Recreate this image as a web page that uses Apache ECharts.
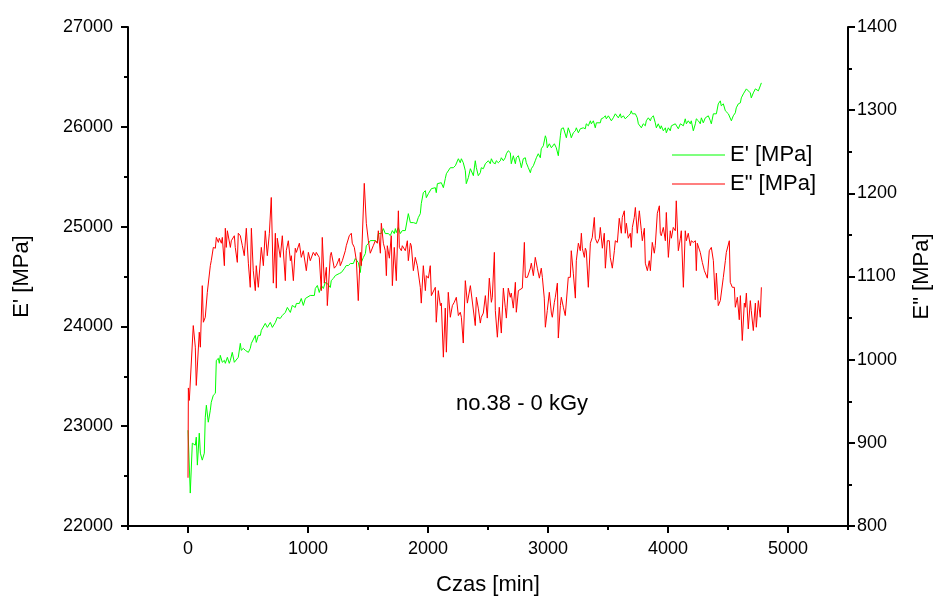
<!DOCTYPE html>
<html>
<head>
<meta charset="utf-8">
<title>no.38 - 0 kGy</title>
<script src="https://cdn.jsdelivr.net/npm/echarts@6/dist/echarts.min.js"></script>
<style>
  html, body { margin: 0; padding: 0; background: #fff; }
  #chart { width: 933px; height: 601px; }
</style>
</head>
<body>
<div id="chart"></div>
<script>
// Storage modulus E' [MPa] vs time [min]
const storageModulus = [
  [0,22960],[19,22330],[36,22830],[61,22810],[69,22890],[78,22610],[94,22930],[103,22730],[119,22660],[136,22730],
  [144,23090],[153,23210],[169,23040],[186,23160],[194,23240],[211,23310],[228,23330],[236,23660],[253,23680],[261,23630],
  [269,23710],[286,23640],[303,23660],[311,23630],[328,23690],[344,23630],[353,23660],[369,23740],[386,23640],[394,23660],
  [419,23690],[436,23830],[444,23760],[461,23780],[478,23760],[486,23780],[503,23740],[519,23780],[528,23830],[544,23810],
  [561,23910],[569,23840],[586,23910],[603,23910],[611,23960],[644,24030],[661,23990],[686,24040],[703,23990],[728,24040],
  [744,24090],[769,24080],[786,24110],[811,24140],[828,24190],[853,24140],[869,24210],[894,24190],[903,24230],[928,24230],
  [944,24280],[961,24210],[978,24280],[994,24290],[1019,24310],[1028,24290],[1053,24310],[1061,24380],[1078,24410],[1094,24340],
  [1111,24410],[1128,24380],[1144,24440],[1161,24430],[1186,24390],[1194,24460],[1211,24480],[1228,24510],[1236,24490],[1261,24530],
  [1278,24540],[1303,24580],[1319,24610],[1336,24610],[1353,24630],[1361,24640],[1378,24630],[1394,24680],[1403,24660],[1419,24640],
  [1436,24540],[1444,24640],[1461,24690],[1478,24730],[1486,24810],[1503,24830],[1519,24860],[1528,24840],[1561,24860],[1578,24840],
  [1586,24930],[1611,24930],[1628,24980],[1644,24930],[1669,24930],[1686,24910],[1703,24960],[1719,24930],[1728,24980],[1736,24940],
  [1753,24990],[1769,24930],[1786,24960],[1811,24960],[1819,24940],[1836,25130],[1853,25040],[1861,25030],[1878,25040],[1894,25060],
  [1903,25030],[1919,25090],[1936,25130],[1944,25230],[1961,25340],[1978,25360],[1986,25290],[2003,25330],[2019,25310],[2028,25380],
  [2044,25360],[2061,25390],[2069,25340],[2078,25430],[2094,25410],[2111,25440],[2128,25390],[2144,25480],[2153,25530],[2169,25530],
  [2186,25590],[2194,25610],[2211,25590],[2228,25610],[2236,25590],[2253,25680],[2269,25640],[2278,25680],[2294,25640],[2311,25560],
  [2319,25430],[2336,25490],[2353,25580],[2361,25560],[2378,25510],[2394,25660],[2403,25590],[2419,25510],[2436,25540],[2444,25590],
  [2461,25580],[2478,25630],[2486,25640],[2503,25660],[2519,25630],[2528,25680],[2544,25640],[2561,25630],[2569,25660],[2586,25640],
  [2603,25660],[2611,25690],[2628,25660],[2644,25690],[2653,25730],[2669,25760],[2686,25740],[2694,25630],[2711,25710],[2728,25630],
  [2736,25690],[2753,25710],[2769,25640],[2778,25590],[2794,25680],[2811,25690],[2819,25640],[2836,25590],[2853,25540],[2861,25580],
  [2878,25610],[2894,25660],[2903,25690],[2919,25730],[2936,25690],[2944,25780],[2961,25810],[2978,25910],[2986,25880],[2994,25790],
  [3011,25830],[3028,25790],[3036,25810],[3053,25830],[3069,25790],[3078,25810],[3086,25710],[3103,25910],[3111,25980],[3128,25990],
  [3144,25980],[3153,25890],[3169,25990],[3186,25930],[3194,25890],[3211,25940],[3228,25960],[3236,25990],[3253,25940],[3269,25980],
  [3278,25960],[3294,25990],[3311,25980],[3319,26030],[3336,26010],[3353,26060],[3361,26030],[3378,26060],[3394,25990],[3403,26040],
  [3419,26060],[3436,26040],[3444,26080],[3461,26090],[3478,26110],[3486,26080],[3503,26110],[3519,26090],[3528,26060],[3544,26090],
  [3561,26130],[3569,26110],[3586,26090],[3603,26130],[3611,26090],[3628,26110],[3644,26080],[3653,26090],[3669,26110],[3686,26130],
  [3694,26160],[3703,26130],[3719,26110],[3728,26130],[3744,26090],[3753,26030],[3769,26030],[3778,25990],[3794,26030],[3811,26010],
  [3819,26060],[3836,26090],[3853,26060],[3861,26090],[3878,26110],[3894,26040],[3903,25990],[3919,26030],[3936,25980],[3944,26010],
  [3961,25960],[3978,25990],[3986,25940],[4003,25990],[4019,25960],[4028,26010],[4044,25990],[4061,26030],[4069,26010],[4086,25980],
  [4103,26030],[4111,26040],[4128,26010],[4144,26080],[4153,26030],[4169,26060],[4186,26030],[4194,26060],[4211,25960],[4228,26030],
  [4236,26080],[4253,26060],[4269,26030],[4278,26090],[4294,26040],[4311,26090],[4319,26080],[4336,26110],[4353,26060],[4361,26030],
  [4378,26130],[4394,26140],[4403,26130],[4419,26230],[4436,26260],[4444,26210],[4461,26230],[4478,26160],[4486,26180],[4503,26130],
  [4519,26140],[4528,26060],[4544,26110],[4561,26140],[4569,26190],[4586,26230],[4603,26240],[4611,26290],[4628,26330],[4644,26340],
  [4653,26380],[4669,26390],[4686,26340],[4694,26290],[4711,26340],[4728,26380],[4736,26390],[4753,26360],[4769,26410],[4778,26440]
];

// Loss modulus E" [MPa] vs time [min]
const lossModulus = [
  [0,858],[3,966],[11,951],[27,951],[44,1041],[61,1015],[69,969],[94,1033],[103,1015],[119,1089],
  [128,1045],[144,1051],[161,1081],[169,1080],[186,1113],[194,1119],[211,1135],[228,1134],[236,1147],[253,1141],
  [261,1146],[278,1140],[286,1147],[303,1113],[311,1158],[319,1135],[328,1155],[353,1135],[361,1143],[386,1149],
  [394,1135],[411,1117],[419,1152],[436,1149],[453,1137],[469,1125],[486,1158],[503,1116],[519,1087],[528,1158],
  [544,1107],[561,1083],[569,1113],[586,1087],[611,1135],[628,1113],[644,1155],[661,1125],[678,1152],[694,1195],
  [711,1092],[728,1152],[736,1086],[744,1146],[769,1123],[786,1149],[811,1095],[819,1131],[836,1143],[853,1119],
  [861,1125],[878,1095],[894,1134],[903,1129],[928,1140],[944,1123],[961,1131],[986,1107],[1003,1129],[1019,1119],
  [1044,1129],[1061,1125],[1069,1129],[1094,1123],[1111,1083],[1119,1147],[1136,1092],[1153,1111],[1161,1065],[1186,1125],
  [1194,1129],[1219,1110],[1236,1113],[1261,1122],[1269,1113],[1286,1119],[1311,1131],[1319,1137],[1344,1149],[1361,1152],
  [1369,1140],[1386,1135],[1403,1119],[1419,1071],[1436,1129],[1444,1113],[1469,1212],[1486,1164],[1503,1143],[1519,1128],
  [1528,1128],[1544,1137],[1561,1143],[1578,1140],[1586,1155],[1603,1128],[1611,1164],[1628,1140],[1644,1131],[1653,1101],
  [1661,1137],[1678,1122],[1694,1149],[1703,1089],[1719,1135],[1736,1095],[1753,1179],[1761,1135],[1778,1131],[1786,1137],
  [1811,1131],[1828,1143],[1836,1119],[1853,1140],[1861,1137],[1878,1107],[1894,1123],[1911,1113],[1936,1087],[1944,1068],
  [1961,1113],[1978,1083],[1986,1101],[2003,1098],[2019,1113],[2028,1077],[2044,1075],[2061,1087],[2069,1045],[2086,1083],
  [2103,1065],[2111,1068],[2128,1003],[2144,1062],[2153,1009],[2169,1081],[2186,1051],[2203,1065],[2219,1069],[2236,1075],
  [2253,1053],[2269,1057],[2278,1051],[2294,1020],[2311,1095],[2328,1068],[2353,1089],[2369,1089],[2394,1041],[2403,1075],
  [2419,1062],[2436,1044],[2444,1051],[2461,1056],[2478,1077],[2494,1050],[2511,1098],[2528,1069],[2536,1075],[2553,1129],
  [2561,1059],[2578,1027],[2594,1063],[2611,1032],[2628,1086],[2644,1063],[2653,1050],[2669,1086],[2686,1075],[2694,1080],
  [2711,1062],[2728,1093],[2736,1057],[2753,1083],[2769,1081],[2786,1086],[2803,1141],[2811,1099],[2828,1099],[2853,1110],
  [2861,1116],[2878,1101],[2894,1123],[2911,1110],[2928,1098],[2944,1110],[2953,1099],[2969,1074],[2978,1039],[2994,1059],
  [3011,1081],[3028,1056],[3036,1051],[3053,1069],[3061,1075],[3078,1092],[3086,1026],[3103,1065],[3111,1075],[3128,1063],
  [3144,1053],[3153,1053],[3169,1099],[3186,1099],[3194,1131],[3211,1104],[3228,1074],[3236,1119],[3253,1140],[3269,1131],
  [3278,1152],[3286,1134],[3303,1123],[3311,1134],[3319,1131],[3336,1087],[3353,1140],[3369,1147],[3386,1171],[3394,1146],
  [3411,1140],[3428,1146],[3436,1159],[3453,1134],[3469,1152],[3478,1110],[3494,1143],[3511,1143],[3519,1123],[3536,1110],
  [3553,1131],[3561,1143],[3578,1141],[3594,1170],[3611,1152],[3619,1171],[3636,1179],[3644,1152],[3653,1164],[3669,1146],
  [3686,1152],[3694,1135],[3703,1159],[3719,1171],[3728,1183],[3744,1152],[3761,1179],[3778,1155],[3786,1143],[3803,1158],
  [3811,1116],[3828,1107],[3844,1119],[3853,1107],[3869,1141],[3886,1128],[3894,1137],[3911,1176],[3928,1185],[3936,1152],
  [3944,1149],[3961,1159],[3978,1143],[3986,1177],[4003,1123],[4019,1155],[4028,1146],[4044,1159],[4061,1155],[4069,1191],
  [4086,1131],[4103,1146],[4111,1155],[4128,1087],[4144,1155],[4153,1143],[4169,1152],[4186,1137],[4194,1143],[4211,1141],
  [4228,1143],[4236,1107],[4244,1140],[4269,1129],[4286,1117],[4303,1107],[4319,1105],[4328,1098],[4344,1131],[4361,1135],
  [4378,1119],[4394,1072],[4403,1104],[4419,1065],[4436,1071],[4444,1071],[4461,1099],[4478,1119],[4486,1129],[4511,1143],
  [4519,1093],[4536,1087],[4553,1087],[4561,1063],[4578,1075],[4594,1048],[4603,1077],[4619,1023],[4636,1068],[4644,1063],
  [4653,1080],[4669,1037],[4686,1071],[4694,1059],[4711,1035],[4728,1068],[4736,1039],[4753,1071],[4769,1051],[4778,1087]
];

// Axis ticks
const timeMajorTicks = [0, 1000, 2000, 3000, 4000, 5000];
const timeMinorTicks = [-500, 500, 1500, 2500, 3500, 4500, 5500];

const FONT = 'Liberation Sans, Arial, Helvetica, sans-serif';
const AXIS_COLOR = '#000';
const TICK_FONT_SIZE = 18;
const plain = v => String(v);

const chart = echarts.init(document.getElementById('chart'), null, { renderer: 'canvas' });

const valueAxisBase = {
  type: 'value',
  axisLine: { show: true, onZero: false, lineStyle: { color: AXIS_COLOR, width: 2 } },
  axisTick: { show: true, length: 7, lineStyle: { color: AXIS_COLOR, width: 2 } },
  minorTick: { show: true, splitNumber: 2, length: 4, lineStyle: { color: AXIS_COLOR, width: 2 } },
  splitLine: { show: false },
  minorSplitLine: { show: false },
  axisLabel: { color: '#000', fontSize: TICK_FONT_SIZE, fontFamily: FONT, formatter: plain },
  nameTextStyle: { color: '#000', fontSize: 22, fontFamily: FONT },
  nameLocation: 'middle'
};

chart.setOption({
  animation: false,
  backgroundColor: '#fff',
  grid: { left: 128, right: 85, top: 27, bottom: 75, containLabel: false, outerBoundsMode: 'none' },
  legend: {
    orient: 'vertical',
    left: 667,
    top: 139,
    icon: 'rect',
    itemWidth: 53,
    itemHeight: 1,
    itemGap: 7,
    textStyle: { color: '#000', fontSize: 22, fontFamily: FONT },
    data: ["E' [MPa]", 'E" [MPa]']
  },
  xAxis: [
    {
      type: 'value',
      position: 'bottom',
      min: -500,
      max: 5500,
      axisLine: { show: true, onZero: false, lineStyle: { color: AXIS_COLOR, width: 2 } },
      axisTick: { show: true, length: 7, customValues: timeMajorTicks, lineStyle: { color: AXIS_COLOR, width: 2 } },
      axisLabel: { customValues: timeMajorTicks, margin: 14, color: '#000', fontSize: TICK_FONT_SIZE, fontFamily: FONT, formatter: plain },
      splitLine: { show: false },
      name: 'Czas [min]',
      nameLocation: 'middle',
      nameGap: 48,
      nameTextStyle: { color: '#000', fontSize: 22, fontFamily: FONT }
    },
    {
      type: 'value',
      position: 'bottom',
      min: -500,
      max: 5500,
      axisLine: { show: false, onZero: false },
      axisTick: { show: true, length: 4, customValues: timeMinorTicks, lineStyle: { color: AXIS_COLOR, width: 2 } },
      axisLabel: { show: false },
      splitLine: { show: false }
    }
  ],
  yAxis: [
    Object.assign({}, valueAxisBase, {
      position: 'left',
      min: 22000,
      max: 27000,
      interval: 1000,
      name: "E' [MPa]",
      nameGap: 95,
      nameRotate: 90,
      axisLabel: Object.assign({}, valueAxisBase.axisLabel, { margin: 15 })
    }),
    Object.assign({}, valueAxisBase, {
      position: 'right',
      min: 800,
      max: 1400,
      interval: 100,
      name: 'E" [MPa]',
      nameGap: 63,
      nameRotate: 90,
      axisLabel: Object.assign({}, valueAxisBase.axisLabel, { margin: 9 })
    })
  ],
  graphic: [
    {
      type: 'text',
      x: 522,
      y: 404,
      style: {
        text: 'no.38 - 0 kGy',
        fill: '#000',
        fontSize: 22,
        fontFamily: FONT,
        align: 'center',
        verticalAlign: 'middle'
      }
    }
  ],
  series: [
    {
      name: "E' [MPa]",
      type: 'line',
      xAxisIndex: 0,
      yAxisIndex: 0,
      data: storageModulus,
      symbol: 'none',
      lineStyle: { color: '#00ff00', width: 1 },
      itemStyle: { color: '#00ff00' }
    },
    {
      name: 'E" [MPa]',
      type: 'line',
      xAxisIndex: 0,
      yAxisIndex: 1,
      data: lossModulus,
      symbol: 'none',
      lineStyle: { color: '#ff0000', width: 1 },
      itemStyle: { color: '#ff0000' }
    }
  ]
});
</script>
</body>
</html>
